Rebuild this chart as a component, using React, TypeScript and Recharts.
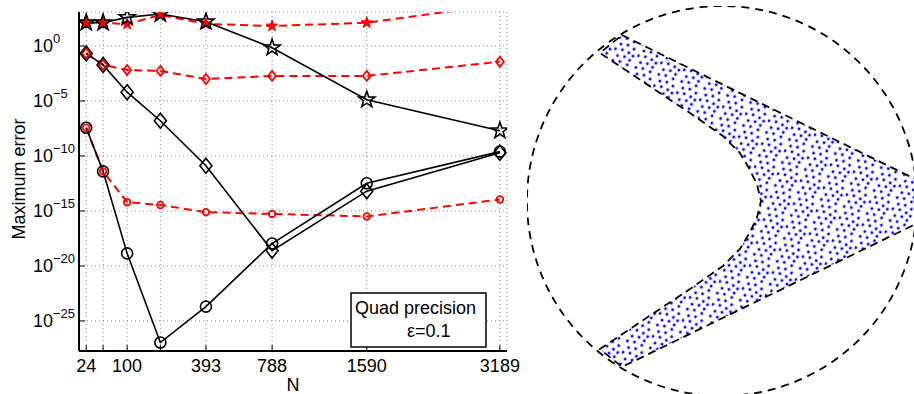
import React from "react";
import {
  LineChart,
  Line,
  XAxis,
  YAxis,
  CartesianGrid,
  ScatterChart,
  Scatter,
  ReferenceDot,
} from "recharts";

const FONT = '"Liberation Sans", Arial, Helvetica, sans-serif';

// N on the x axis; only some of them carry a label
const nValues = [24, 49, 100, 200, 393, 788, 1590, 3189];
const nLabeled = [24, 100, 393, 788, 1590, 3189];
const errorTicks = [1e-25, 1e-20, 1e-15, 1e-10, 1e-5, 1];

// maximum error for each N
const starBlack = [1.3e2, 1.3e2, 4e2, 8e2, 1.6e2, 7e-1, 1.3e-5, 2e-8];
const starRed = [1.3e2, 1.3e2, 1e2, 6.6e2, 1e2, 6.6e1, 1.3e2, 6e3];
const diamondBlack = [2.1e-1, 1.9e-2, 6.3e-5, 1.6e-7, 1.3e-11, 2.5e-19, 6.3e-14, 2e-10];
const diamondRed = [2.1e-1, 1.9e-2, 6.6e-3, 5.4e-3, 1e-3, 1.9e-3, 1.9e-3, 3.7e-2];
const circleBlack = [3.7e-8, 4e-12, 1.4e-19, 1.1e-27, 2e-24, 1.1e-18, 3.3e-13, 2.5e-10];
const circleRed = [3.7e-8, 4e-12, 6.3e-15, 3.5e-15, 7.9e-16, 5.4e-16, 3.2e-16, 1.1e-14];

// outline of the sampled region (unit disk coordinates)
const bandOutline = [
  { x: -0.513, y: 0.851 },
  { x: 1.0, y: 0.108 },
  { x: 1.0, y: -0.115 },
  { x: -0.513, y: -0.851 },
  { x: -0.626, y: -0.759 },
  { x: -0.164, y: -0.451 },
  { x: 0.005, y: -0.333 },
  { x: 0.092, y: -0.246 },
  { x: 0.138, y: -0.169 },
  { x: 0.179, y: -0.087 },
  { x: 0.2, y: 0 },
  { x: 0.179, y: 0.087 },
  { x: 0.138, y: 0.169 },
  { x: 0.092, y: 0.246 },
  { x: 0.005, y: 0.333 },
  { x: -0.164, y: 0.451 },
  { x: -0.626, y: 0.759 },
];

const data = nValues.map((n, i) => ({
  n,
  starBlack: starBlack[i],
  starRed: starRed[i],
  diamondBlack: diamondBlack[i],
  diamondRed: diamondRed[i],
  circleBlack: circleBlack[i],
  circleRed: circleRed[i],
}));

// dot layout of one tile of the fill pattern
const dotTile = [
  [2, 3], [9, 2], [17, 3], [5, 9], [12, 8], [19, 10], [1, 15],
  [8, 14], [15, 15], [20, 17], [5, 21], [12, 20], [18, 22],
];

function starPoints(cx: number, cy: number, R: number) {
  const pts: string[] = [];
  for (let k = 0; k < 10; k++) {
    const r = k % 2 === 0 ? R : R * 0.4;
    const a = -Math.PI / 2 + (k * Math.PI) / 5;
    pts.push(`${cx + r * Math.cos(a)},${cy + r * Math.sin(a)}`);
  }
  return pts.join(" ");
}

function marker(kind: string, color: string, size: number, fill = "none", sw = 1.5) {
  return (props: any) => {
    const { cx, cy, index } = props;
    if (cx == null || cy == null) return <g key={index} />;
    if (kind === "star")
      return (
        <polygon key={index} points={starPoints(cx, cy, size)} fill={fill} stroke={color} strokeWidth={sw} />
      );
    if (kind === "diamond") {
      const h = size * 1.25;
      return (
        <polygon
          key={index}
          points={`${cx},${cy - h} ${cx + size},${cy} ${cx},${cy + h} ${cx - size},${cy}`}
          fill="none"
          stroke={color}
          strokeWidth={sw}
        />
      );
    }
    return <circle key={index} cx={cx} cy={cy} r={size} fill="none" stroke={color} strokeWidth={sw} />;
  };
}

function BottomTick(props: any) {
  const { x, y, payload } = props;
  return (
    <g>
      <line x1={x} y1={y} x2={x} y2={y - 6} stroke="#000" />
      {nLabeled.includes(payload.value) && (
        <text x={x} y={y + 21} textAnchor="middle" fontSize={18} fontFamily={FONT} fill="#000">
          {payload.value}
        </text>
      )}
    </g>
  );
}

function TopTick(props: any) {
  const { x, y } = props;
  return <line x1={x} y1={y} x2={x} y2={y + 6} stroke="#000" />;
}

function LeftTick(props: any) {
  const { x, y, payload } = props;
  const exp = Math.round(Math.log10(payload.value));
  return (
    <g>
      <line x1={x} y1={y} x2={x + 6} y2={y} stroke="#000" />
      <text x={x - 46} y={y + 6.5} fontSize={18} fontFamily={FONT} fill="#000">
        10
        <tspan dy={-9.5} fontSize={13}>
          {exp === 0 ? "0" : "\u2212" + Math.abs(exp)}
        </tspan>
      </text>
    </g>
  );
}

function RightTick(props: any) {
  const { x, y } = props;
  return <line x1={x} y1={y} x2={x - 6} y2={y} stroke="#000" />;
}

function BandShape(props: any) {
  const pts = (props.points || []).filter((p: any) => p.x != null && p.y != null);
  const d = pts.map((p: any, i: number) => `${i ? "L" : "M"}${p.x},${p.y}`).join(" ") + " Z";
  return (
    <g>
      <defs>
        <pattern
          id="bandDots"
          width={24}
          height={24}
          patternUnits="userSpaceOnUse"
          patternTransform="rotate(17)"
        >
          {dotTile.map(([cx, cy], i) => (
            <circle key={i} cx={cx} cy={cy} r={1.45} fill="#0000ff" />
          ))}
        </pattern>
      </defs>
      <path d={d} fill="url(#bandDots)" stroke="#000" strokeWidth={1.8} strokeDasharray="8 5" />
    </g>
  );
}

const axisLine = { stroke: "#000", strokeWidth: 2 };

export default function App() {
  return (
    <div
      style={{
        position: "absolute",
        left: 0,
        top: 0,
        width: 914,
        height: 394,
        overflow: "hidden",
        background: "#fff",
        fontFamily: FONT,
      }}
    >
      <div style={{ position: "absolute", left: 0, top: 0 }}>
        <LineChart width={520} height={394} data={data} margin={{ top: 12, right: 13, bottom: 0, left: 0 }}>
          <CartesianGrid stroke="#8a8a8a" strokeDasharray="1 3" />
          <XAxis
            dataKey="n"
            type="number"
            scale="sqrt"
            domain={[16, 3290]}
            ticks={nValues}
            allowDataOverflow
            height={43}
            tickSize={0}
            tickMargin={0}
            tickLine={false}
            axisLine={axisLine}
            tick={<BottomTick />}
            interval={0}
          />
          <XAxis
            xAxisId="top"
            orientation="top"
            dataKey="n"
            type="number"
            scale="sqrt"
            domain={[16, 3290]}
            ticks={nValues}
            allowDataOverflow
            height={0}
            tickSize={0}
            tickMargin={0}
            tickLine={false}
            axisLine={axisLine}
            tick={<TopTick />}
            interval={0}
          />
          <YAxis
            type="number"
            scale="log"
            domain={[1.86e-28, 1.23e3]}
            ticks={errorTicks}
            allowDataOverflow
            width={79}
            tickSize={0}
            tickMargin={0}
            tickLine={false}
            axisLine={axisLine}
            tick={<LeftTick />}
            interval={0}
          />
          <YAxis
            yAxisId="right"
            orientation="right"
            type="number"
            scale="log"
            domain={[1.86e-28, 1.23e3]}
            ticks={errorTicks}
            allowDataOverflow
            width={0}
            tickSize={0}
            tickMargin={0}
            tickLine={false}
            axisLine={axisLine}
            tick={<RightTick />}
            interval={0}
          />
          <Line dataKey="starRed" stroke="#ff0000" strokeWidth={2} strokeDasharray="8 5"
            dot={marker("star", "#ff0000", 6, "#ff0000", 1)} activeDot={false} isAnimationActive={false} />
          <Line dataKey="diamondRed" stroke="#ff0000" strokeWidth={2} strokeDasharray="8 5"
            dot={marker("diamond", "#ff0000", 4, "none", 1.8)} activeDot={false} isAnimationActive={false} />
          <Line dataKey="circleRed" stroke="#ff0000" strokeWidth={2} strokeDasharray="8 5"
            dot={marker("circle", "#ff0000", 3.3, "none", 1.8)} activeDot={false} isAnimationActive={false} />
          <Line dataKey="starBlack" stroke="#000" strokeWidth={1.6}
            dot={marker("star", "#000", 8.5, "none", 1.6)} activeDot={false} isAnimationActive={false} />
          <Line dataKey="diamondBlack" stroke="#000" strokeWidth={1.6}
            dot={marker("diamond", "#000", 6, "none", 1.6)} activeDot={false} isAnimationActive={false} />
          <Line dataKey="circleBlack" stroke="#000" strokeWidth={1.6}
            dot={marker("circle", "#000", 5.5, "none", 1.6)} activeDot={false} isAnimationActive={false} />
        </LineChart>
      </div>

      <svg style={{ position: "absolute", left: 0, top: 0, pointerEvents: "none" }} width={520} height={394}>
        <text transform="translate(25,179) rotate(-90)" textAnchor="middle" fontSize={18} fontFamily={FONT} fill="#000">
          Maximum error
        </text>
        <text x={293} y={391} textAnchor="middle" fontSize={18} fontFamily={FONT} fill="#000">
          N
        </text>
        <rect x={351} y={293} width={135} height={54} fill="#fff" stroke="#000" strokeWidth={1.5} />
        <text x={355} y={314} fontSize={18} fontFamily={FONT} fill="#000">
          Quad precision
        </text>
        <text x={407} y={337} fontSize={18} fontFamily={FONT} fill="#000">
          ε=0.1
        </text>
      </svg>

      <div style={{ position: "absolute", left: 527, top: 6 }}>
        <ScatterChart width={390} height={390} margin={{ top: 0, right: 0, bottom: 0, left: 0 }}>
          <XAxis dataKey="x" type="number" domain={[-1, 1]} hide />
          <YAxis dataKey="y" type="number" domain={[-1, 1]} hide />
          <ReferenceDot x={0} y={0} r={195} fill="none" stroke="#000" strokeWidth={1.8}
            strokeDasharray="8 6" ifOverflow="visible" />
          <Scatter data={bandOutline} line={(p: any) => <BandShape {...p} />} shape={() => <g />}
            isAnimationActive={false} />
        </ScatterChart>
      </div>
    </div>
  );
}
